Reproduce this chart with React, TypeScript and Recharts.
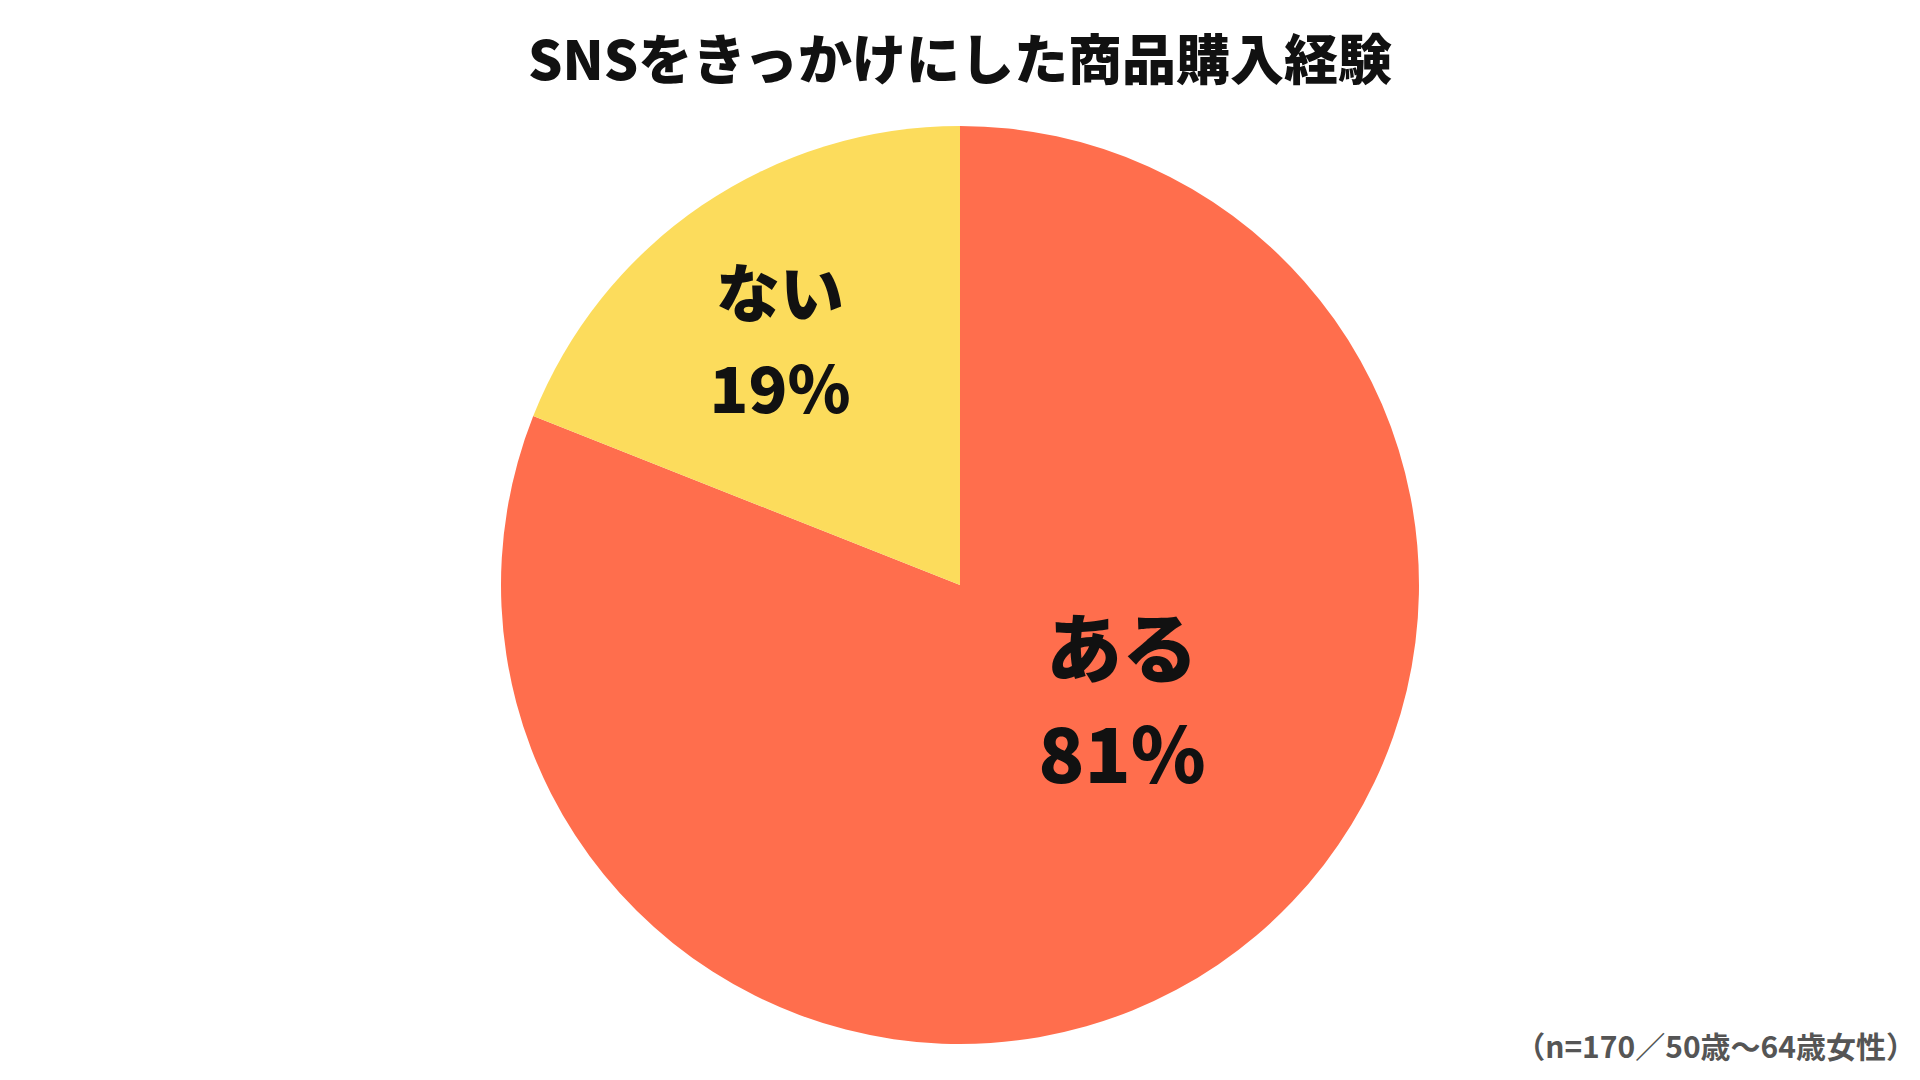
import React from "react";
import { PieChart, Pie, Cell } from "recharts";

const categories = ["ある", "ない"];
const values = [81, 19];
const colors = ["#FF6E4D", "#FCDC5C"];
const title = "SNSをきっかけにした商品購入経験";
const footnote = "（n=170／50歳～64歳女性）";

const data = categories.map((name, i) => ({ name, value: values[i] }));

const FONT = '"Noto Sans CJK JP", "Noto Sans", sans-serif';

// label placement relative to pie center, as fraction of radius
const labelOffsets = [
  { dx: 0.353, dy: 0.245, size: 76, gap: 106 },
  { dx: -0.392, dy: -0.54, size: 64, gap: 96 },
];

const renderLabel = (props: any) => {
  const { cx, cy, outerRadius, index, name, value } = props;
  const o = labelOffsets[index];
  const x = cx + o.dx * outerRadius;
  const y = cy + o.dy * outerRadius;
  return (
    <g>
      <text
        x={x}
        y={y - o.gap / 2}
        textAnchor="middle"
        dominantBaseline="central"
        fontFamily={FONT}
        fontWeight={900}
        fontSize={o.size}
        fill="#111"
      >
        {name}
      </text>
      <text
        x={x}
        y={y + o.gap / 2}
        textAnchor="middle"
        dominantBaseline="central"
        fontFamily={FONT}
        fontWeight={900}
        fontSize={o.size}
        fill="#111"
      >
        {value}%
      </text>
    </g>
  );
};

export default function App() {
  return (
    <div
      style={{
        position: "absolute",
        left: 0,
        top: 0,
        width: 1920,
        height: 1080,
        background: "#fff",
        fontFamily: FONT,
      }}
    >
      <div
        style={{
          position: "absolute",
          left: 0,
          top: 22,
          width: 1920,
          textAlign: "center",
          fontSize: 54,
          fontWeight: 900,
          lineHeight: "70px",
          color: "#111",
        }}
      >
        {title}
      </div>
      <PieChart width={1920} height={1080} style={{ position: "absolute", left: 0, top: 0 }}>
        <Pie
          data={data}
          dataKey="value"
          nameKey="name"
          cx={955}
          cy={580}
          outerRadius={459}
          startAngle={90}
          endAngle={-270}
          stroke="none"
          label={renderLabel}
          labelLine={false}
          isAnimationActive={false}
        >
          {data.map((d, i) => (
            <Cell key={d.name} fill={colors[i]} />
          ))}
        </Pie>
      </PieChart>
      <div
        style={{
          position: "absolute",
          right: 4,
          top: 1026,
          fontSize: 30,
          fontWeight: 700,
          lineHeight: "38px",
          color: "#555",
          whiteSpace: "nowrap",
        }}
      >
        {footnote}
      </div>
    </div>
  );
}
